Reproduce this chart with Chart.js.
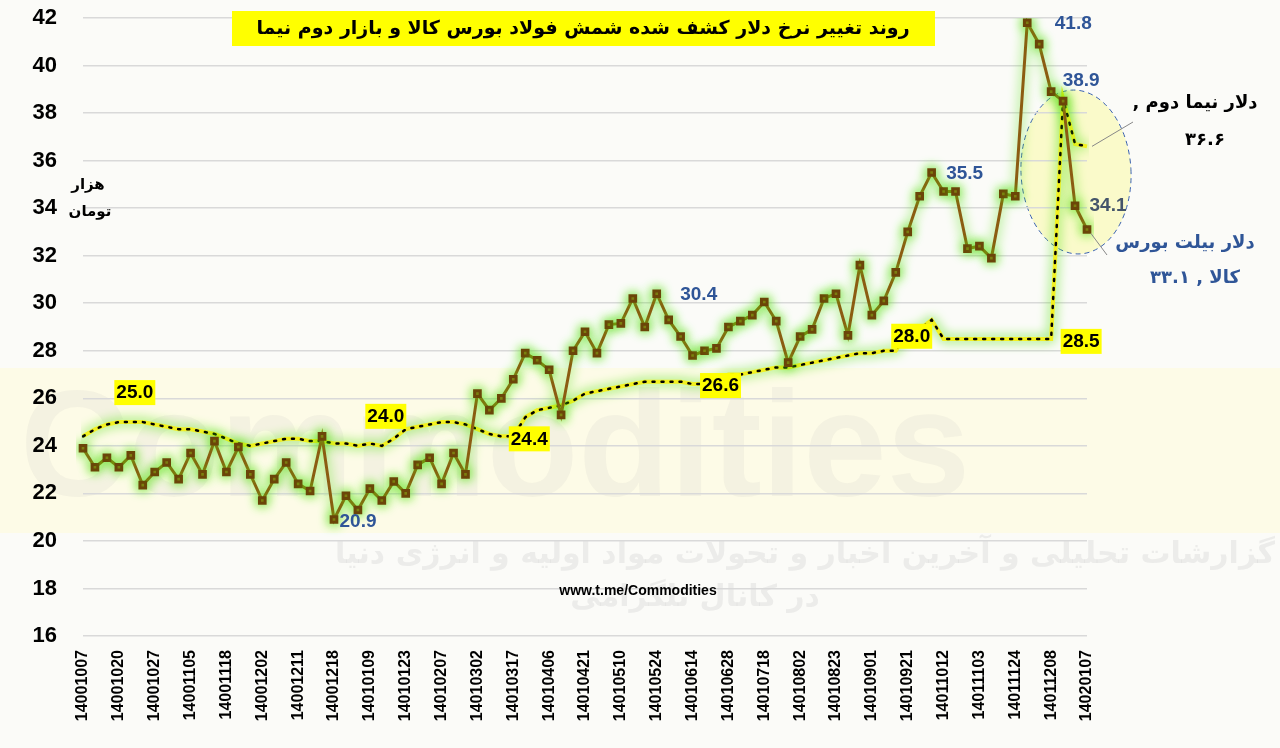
<!DOCTYPE html>
<html><head><meta charset="utf-8">
<script src="https://cdn.jsdelivr.net/npm/chart.js@4.4.0/dist/chart.umd.min.js"></script>
<style>html,body{margin:0;padding:0;background:#fbfbf8;}canvas{display:block;}</style>
</head><body><canvas id="c" width="1280" height="748"></canvas>
<script>
const tickLabels = ['14001007','14001020','14001027','14001105','14001118','14001202','14001211','14001218','14010109','14010123','14010207','14010302','14010317','14010406','14010421','14010510','14010524','14010614','14010628','14010718','14010802','14010823','14010901','14010921','14011012','14011103','14011124','14011208','14020107'];
const billet = [23.9,23.1,23.5,23.1,23.6,22.35,22.9,23.3,22.6,23.7,22.8,24.2,22.9,23.95,22.8,21.7,22.6,23.3,22.4,22.1,24.4,20.9,21.9,21.3,22.2,21.7,22.5,22.0,23.2,23.5,22.4,23.7,22.8,26.2,25.5,26.0,26.8,27.9,27.6,27.2,25.3,28.0,28.8,27.9,29.1,29.15,30.2,29.0,30.4,29.3,28.6,27.8,28.0,28.1,29.0,29.25,29.5,30.05,29.25,27.5,28.6,28.9,30.2,30.4,28.65,31.6,29.5,30.1,31.3,33.0,34.5,35.5,34.7,34.7,32.3,32.4,31.9,34.6,34.5,41.8,40.9,38.9,38.5,34.1,33.1];
const nima = [24.4,24.7,24.9,25.0,25.0,25.0,24.9,24.8,24.7,24.7,24.6,24.5,24.3,24.1,24.0,24.1,24.2,24.3,24.3,24.2,24.2,24.1,24.1,24.0,24.1,24.0,24.3,24.7,24.8,24.9,25.0,25.0,24.9,24.7,24.5,24.4,24.4,25.2,25.5,25.6,25.7,25.9,26.2,26.3,26.4,26.5,26.6,26.7,26.7,26.7,26.7,26.6,26.6,26.7,27.0,27.0,27.1,27.2,27.3,27.3,27.4,27.5,27.6,27.7,27.8,27.9,27.9,28.0,28.0,28.8,28.9,29.3,28.5,28.5,28.5,28.5,28.5,28.5,28.5,28.5,28.5,28.5,38.6,36.7,36.6];
const categories = billet.map((v,i)=> i%3===0 ? tickLabels[i/3] : '');
const yTicks = [16,18,20,22,24,26,28,30,32,34,36,38,40,42];
const nimaLabels = [[4,'25.0'],[25,'24.0'],[36,'24.4'],[52,'26.6'],[69,'28.0'],[81,'28.5']];
const billetLabels = [[21,'20.9'],[48,'30.4'],[71,'35.5'],[79,'41.8'],[81,'38.9'],[83,'34.1']];
const title = 'روند تغییر نرخ دلار کشف شده شمش فولاد بورس کالا و بازار دوم نیما';

const glow = {
  id:'glow',
  beforeDatasetDraw(chart,args){const c=chart.ctx;c.save();
    if(args.index===1){c.shadowColor='rgba(0,0,0,0)';return;}
    c.shadowColor='rgba(80,225,10,1)';c.shadowBlur=12;},
  afterDatasetDraw(chart){chart.ctx.restore();}
};
const bg = {
  id:'bg',
  beforeDraw(chart){
    const c=chart.ctx;c.save();
    c.fillStyle='#fbfbf8';c.fillRect(0,0,1280,748);
    c.fillStyle='rgba(255,252,220,0.6)';c.fillRect(0,368,1280,165);
    c.font='bold 150px "Liberation Sans"';c.fillStyle='rgba(200,200,190,0.16)';c.textAlign='left';c.textBaseline='middle';
    c.fillText('Commodities',20,455);
    c.font='bold 30px "DejaVu Sans"';c.fillStyle='rgba(180,180,180,0.2)';c.textAlign='right';c.direction='rtl';
    c.fillText('گزارشات تحلیلی و آخرین اخبار و تحولات مواد اولیه و انرژی دنیا',1275,555);
    c.fillText('در کانال تلگرامی',820,598);
    c.direction='ltr';
    c.beginPath();c.ellipse(1076,172,55,82,-0.05,0,Math.PI*2);
    c.fillStyle='rgba(250,250,190,0.8)';c.fill();
    c.setLineDash([5,4]);c.strokeStyle='#3a62b0';c.lineWidth=1;c.stroke();c.setLineDash([]);
    c.restore();
  },
  afterDraw(chart){
    const c=chart.ctx,x=chart.scales.x,y=chart.scales.y;c.save();
    c.textBaseline='middle';c.textAlign='center';
    c.font='bold 19px "Liberation Sans"';
    nimaLabels.forEach(([i,t])=>{
      let px=x.getPixelForValue(i),py=y.getPixelForValue(nima[i]);
      let lx=px+4, ly=py-30;
      if(i===36){lx=px+16;ly=py+2;}
      if(i===52){lx=px+16;ly=py+1;}
      if(i===69){lx=px+4;ly=py+4;}
      if(i===81){lx=px+30;ly=py+2;}
      const w=c.measureText(t).width+4;
      c.fillStyle='#ffff00';c.fillRect(lx-w/2,ly-12,w,25);
      c.fillStyle='#000';c.fillText(t,lx,ly+1);
    });
    billetLabels.forEach(([i,t])=>{
      let px=x.getPixelForValue(i),py=y.getPixelForValue(billet[i]);
      let lx=px+22,ly=py;
      if(i===21){lx=px+24;ly=py+2;}
      if(i===48){lx=px+42;ly=py+1;}
      if(i===71){lx=px+33;ly=py+1;}
      if(i===79){lx=px+46;ly=py+1;}
      if(i===81){lx=px+30;ly=py-11;}
      if(i===83){lx=px+33;ly=py;}
      c.fillStyle = i===83 ? '#44546a' : '#2f5597';
      c.fillText(t,lx,ly);
    });
    c.fillStyle='#ffff00';c.fillRect(232,11,703,35);
    c.fillStyle='#000';c.font='bold 19px "DejaVu Sans"';c.direction='rtl';
    c.fillText(title,583,29);
    c.font='bold 15px "DejaVu Sans"';
    c.fillText('هزار',88,185);c.fillText('تومان',90,212);
    c.font='bold 18px "DejaVu Sans"';
    c.fillText('دلار نیما دوم ,',1195,103);c.fillText('۳۶.۶',1205,140);
    c.fillStyle='#2f5597';
    c.fillText('دلار بیلت بورس',1185,243);c.fillText('کالا , ۳۳.۱',1195,278);
    c.direction='ltr';
    c.fillStyle='#000';c.font='bold 14px "Liberation Sans"';c.fillText('www.t.me/Commodities',638,591);
    c.strokeStyle='#888';c.lineWidth=1;c.beginPath();
    const nx=x.getPixelForValue(84),ny=y.getPixelForValue(nima[84]);
    c.moveTo(nx+5,ny);c.lineTo(1133,122);
    const by=y.getPixelForValue(billet[84]);
    c.moveTo(nx+4,by+4);c.lineTo(1107,255);c.stroke();
    c.restore();
  }
};

new Chart(document.getElementById('c'),{
  type:'line',
  data:{labels:categories,datasets:[
    {data:billet,borderColor:'#8c5c12',borderWidth:3,pointStyle:'rect',pointRadius:4,pointBackgroundColor:'#8c5c12',pointBorderColor:'#6b4508',tension:0},
    {data:nima,borderColor:'#000',borderWidth:2.5,borderDash:[2,7],borderCapStyle:'round',pointRadius:0,tension:0},
    {data:nima,borderColor:'#f2f020',borderWidth:4,pointRadius:0,tension:0}
  ]},
  options:{
    responsive:false,animation:false,
    layout:{padding:{left:0,right:193,top:18,bottom:0}},
    plugins:{legend:{display:false},tooltip:{enabled:false}},
    scales:{
      x:{offset:false,grid:{display:false},border:{display:false},
        ticks:{autoSkip:false,maxRotation:90,minRotation:90,color:'#000',font:{family:'Liberation Sans',size:16,weight:'bold'},padding:6},
        afterFit(s){s.height=112;s.paddingLeft=0;s.paddingRight=0;}},
      y:{min:16,max:42,afterBuildTicks(s){s.ticks=yTicks.map(v=>({value:v}));},
        grid:{color:'#d9d9d9',lineWidth:1.5,drawTicks:false},border:{display:false},
        ticks:{color:'#000',font:{family:'Liberation Sans',size:22,weight:'bold'},padding:26},
        afterFit(s){s.width=83;s.paddingTop=0;s.paddingBottom=0;}}
    }
  },
  plugins:[bg,glow]
});
</script></body></html>
